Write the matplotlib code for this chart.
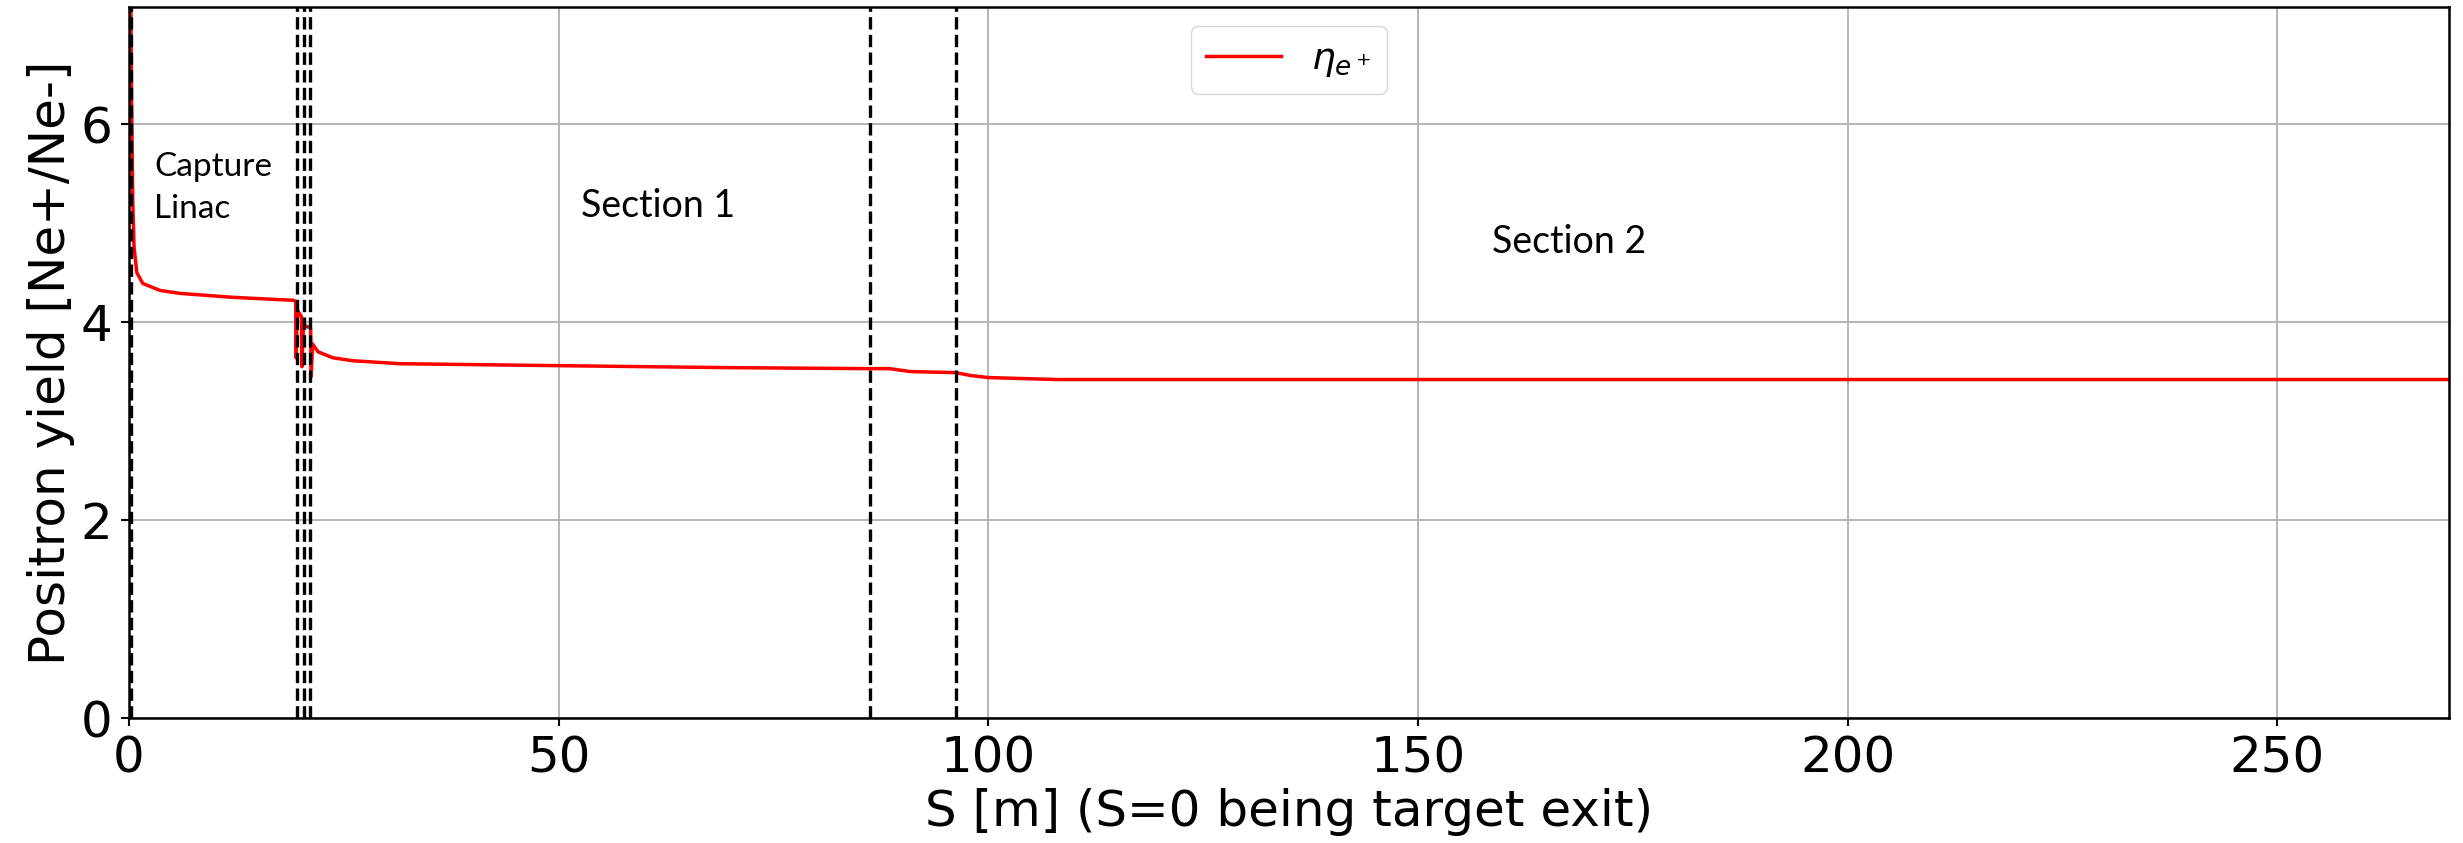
import matplotlib.pyplot as plt
import numpy as np

# positron yield along the line
s_m = [0.2, 0.3, 0.43, 0.58, 0.9, 1.6, 3.6, 5.9, 12.1, 19.1, 19.4,
       19.42, 19.6, 20.08, 20.12, 20.3, 21.13, 21.2, 21.35, 22.0, 23.7,
       26.0, 31.5, 50.0, 70.0, 86.0, 88.5, 91.0, 96.2, 98.0, 100.0,
       108.0, 150.0, 200.0, 270.0]
yield_ep = [7.3, 6.2, 5.23, 4.76, 4.5, 4.39, 4.32, 4.29, 4.25, 4.22, 4.21,
            3.64, 4.12, 4.05, 3.55, 3.97, 3.94, 3.45, 3.78, 3.70, 3.64,
            3.61, 3.58, 3.56, 3.54, 3.53, 3.53, 3.50, 3.49, 3.46, 3.44,
            3.42, 3.42, 3.42, 3.42]

# section boundaries (dashed lines)
boundaries = [0.25, 19.6, 20.4, 21.05, 86.2, 96.2]

# region labels: (text, x, y baseline)
linac_labels = [("Capture", 2.9, 5.48), ("Linac", 2.9, 5.05)]
section_labels = [("Section 1", 52.6, 5.06), ("Section 2", 158.6, 4.70)]

fig = plt.figure(figsize=(24.63, 8.43), dpi=100)
ax = fig.add_axes([0.0524, 0.148, 0.9419, 0.8435])

ax.plot(s_m, yield_ep, color='red', lw=2.5, label=r'$\eta_{e^+}$')
for b in boundaries:
    ax.axvline(b, color='black', ls='--', lw=2.4)

for txt, x, y in linac_labels:
    ax.text(x, y, txt, fontsize=24, family='Lato', va='baseline', ha='left')
for txt, x, y in section_labels:
    ax.text(x, y, txt, fontsize=27, family='Lato', va='baseline', ha='left')

ax.set_xlim(0, 270)
ax.set_ylim(0, 7.18)
ax.set_xticks([0, 50, 100, 150, 200, 250])
ax.set_yticks([0, 2, 4, 6])
ax.grid(True, color='#b0b0b0', lw=1.3)
ax.tick_params(labelsize=36, length=6, width=1.5, pad=6)
for sp in ax.spines.values():
    sp.set_linewidth(1.8)

ax.set_xlabel('S [m] (S=0 being target exit)', fontsize=36)
ax.set_ylabel('Positron yield [Ne+/Ne-]', fontsize=36)
ax.legend(loc='upper center', fontsize=27)

fig.savefig('out.png', dpi=100)
